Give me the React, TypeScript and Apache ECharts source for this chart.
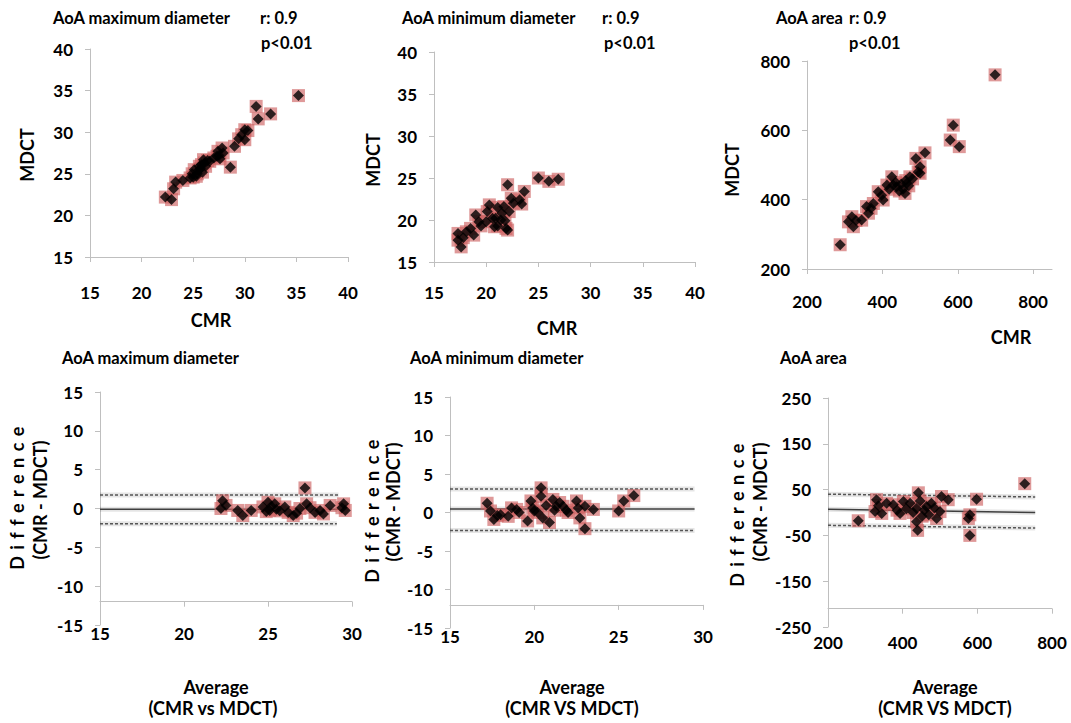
import React, { useEffect, useRef } from "react";
import * as echarts from "echarts";

// ---------- DATA ----------
// Correlation plots: [CMR, MDCT]
const maxScatter: number[][] = [
  [22.3, 22.2], [22.9, 21.9], [23.1, 23.2], [23.3, 24.0], [24.0, 24.2], [24.7, 24.5], [24.9, 25.0],
  [25.0, 24.6], [25.1, 25.5], [25.3, 24.7], [25.4, 25.0], [25.5, 25.4], [25.6, 25.9], [25.7, 25.6],
  [25.8, 26.1], [25.9, 25.2], [26.0, 26.7], [26.1, 26.3], [26.2, 25.9], [26.4, 26.6], [26.6, 26.5],
  [27.0, 26.9], [27.3, 27.1], [27.4, 27.7], [27.5, 27.2], [27.6, 26.8], [27.8, 28.1], [27.9, 27.5],
  [28.6, 25.8], [29.0, 28.3], [29.4, 29.2], [29.7, 29.7], [30.0, 29.1], [30.0, 30.3], [30.3, 30.2],
  [31.1, 33.1], [31.3, 31.6], [32.5, 32.2], [35.2, 34.4],
];
const minScatter: number[][] = [
  [17.3, 18.4], [17.3, 17.6], [17.6, 16.8], [17.8, 17.9], [18.1, 18.6], [18.5, 19.0], [18.8, 18.2],
  [19.0, 20.6], [19.3, 19.8], [19.5, 19.3], [20.0, 19.8], [20.1, 21.0], [20.3, 21.8], [20.6, 20.2],
  [20.8, 19.2], [20.9, 20.2], [21.1, 19.3], [21.1, 21.5], [21.4, 20.0], [21.5, 20.8], [21.7, 21.6],
  [21.8, 19.9], [21.9, 19.0], [22.05, 18.8], [22.05, 24.2], [22.2, 21.0], [22.4, 22.6], [22.6, 22.0],
  [23.2, 22.4], [23.4, 21.9], [23.65, 23.4], [25.0, 25.0], [26.0, 24.6], [26.9, 24.85],
];
const areaScatter: number[][] = [
  [288, 270], [310, 336], [319, 351], [323, 322], [330, 340], [345, 341], [358, 380], [363, 361],
  [370, 375], [376, 389], [389, 423], [398, 413], [402, 399], [412, 442], [418, 430], [425, 466],
  [429, 442], [435, 450], [438, 437], [445, 425], [450, 445], [455, 430], [460, 418], [462, 455],
  [465, 447], [470, 440], [473, 466], [480, 460], [489, 519], [495, 480], [500, 495], [500, 476],
  [513, 535], [580, 572], [588, 615], [604, 553], [699, 760],
];

// Bland-Altman plots: [average, difference]
const maxBA: number[][] = [
  [22.3, 1.0], [22.2, 0.0], [22.5, 0.4], [23.2, -0.25], [23.5, -0.9], [24.0, -0.25], [24.7, 0.2],
  [24.9, -0.4], [25.0, 0.8], [25.1, -0.25], [25.2, 0.3], [25.4, 0.6], [25.5, -0.1], [25.7, -0.3],
  [26.0, 0.2], [26.2, -0.5], [26.5, -0.9], [26.7, -0.6], [26.9, 0.0], [27.2, 2.65], [27.3, 0.6],
  [27.5, 0.1], [27.8, -0.5], [28.1, -0.25], [28.3, -0.7], [28.7, 0.4], [29.4, 0.1], [29.5, 0.6],
  [29.6, -0.25],
];
const minBA: number[][] = [
  [17.2, 1.2], [17.4, 0.2], [17.6, -0.9], [17.8, -0.4], [18.0, -0.3], [18.45, -0.5], [18.65, 0.6],
  [18.95, 0.4], [19.1, 0.0], [19.6, -1.1], [19.8, 1.5], [19.9, 0.6], [20.0, 0.2], [20.2, 0.0],
  [20.4, 3.2], [20.4, 2.1], [20.5, -0.7], [20.7, 0.9], [20.9, -1.3], [21.1, 1.7], [21.2, 0.3],
  [21.3, 0.8], [21.5, 1.3], [21.7, 0.8], [21.9, 0.3], [22.0, 0.0], [22.5, 1.5], [22.6, 0.6],
  [22.7, -0.7], [23.0, -2.1], [23.0, 0.8], [23.5, 0.4], [25.0, 0.2], [25.3, 1.5], [25.9, 2.2],
];
const areaBA: number[][] = [
  [281, -18], [326, 2], [330, 28], [335, 15], [344, -2], [357, 20], [375, 17], [385, 5], [393, -2],
  [402, 24], [410, 8], [420, 20], [428, 0], [437, 9], [437, -20], [440, -39], [442, 43], [447, 25],
  [452, -8], [458, 5], [464, 13], [470, -5], [477, 20], [485, 10], [491, -13], [500, 2], [504, 35],
  [522, 28], [576, -13], [580, -5], [580, -50], [598, 29], [727, 63],
];

// Mean difference and limits of agreement lines: [x, y] endpoints
const maxMean: number[][] = [[15, -0.1], [29.7, -0.1]];
const maxUpper: number[][] = [[15, 1.75], [29.2, 1.75]];
const maxLower: number[][] = [[15, -1.95], [29.1, -1.95]];
const minMean: number[][] = [[15, 0.45], [29.5, 0.45]];
const minUpper: number[][] = [[15, 3.05], [29.5, 3.05]];
const minLower: number[][] = [[15, -2.35], [29.5, -2.35]];
const areaMean: number[][] = [[200, 7], [755, 0]];
const areaUpper: number[][] = [[200, 40], [755, 34]];
const areaLower: number[][] = [[200, -28], [755, -34]];

const areaBATicks = [-250, -150, -50, 50, 150, 250];

// ---------- STYLE ----------
const FONT = "Lato";
const AXIS_COLOR = "#bfbfbf";
const TICK_SIZE = 17;
const TITLE_SIZE = 16.5;
const NAME_SIZE = 18;

type PanelCfg = {
  grid: { left: number; top: number; width: number; height: number };
  x: { min: number; max: number; interval: number; margin: number; offset: number; hideMax?: boolean };
  y: { min: number; max: number; interval?: number; custom?: number[] };
  data: number[][];
  lines?: { mean: number[][]; upper: number[][]; lower: number[][] };
};

const panels: PanelCfg[] = [
  {
    grid: { left: 90, top: 49, width: 258, height: 208 },
    x: { min: 15, max: 40, interval: 5, margin: 27, offset: 0 },
    y: { min: 15, max: 40, interval: 5 },
    data: maxScatter,
  },
  {
    grid: { left: 434, top: 52, width: 261, height: 210 },
    x: { min: 15, max: 40, interval: 5, margin: 22, offset: 0 },
    y: { min: 15, max: 40, interval: 5 },
    data: minScatter,
  },
  {
    grid: { left: 807, top: 61, width: 245, height: 208 },
    x: { min: 200, max: 850, interval: 200, margin: 24, offset: 0, hideMax: true },
    y: { min: 200, max: 800, interval: 200 },
    data: areaScatter,
  },
  {
    grid: { left: 100, top: 392, width: 252, height: 233 },
    x: { min: 15, max: 30, interval: 5, margin: 23, offset: -23.3 },
    y: { min: -15, max: 15, interval: 5 },
    data: maxBA,
    lines: { mean: maxMean, upper: maxUpper, lower: maxLower },
  },
  {
    grid: { left: 450, top: 397, width: 253, height: 231 },
    x: { min: 15, max: 30, interval: 5, margin: 23, offset: -23.1 },
    y: { min: -15, max: 15, interval: 5 },
    data: minBA,
    lines: { mean: minMean, upper: minUpper, lower: minLower },
  },
  {
    grid: { left: 828, top: 398, width: 224, height: 229 },
    x: { min: 200, max: 800, interval: 200, margin: 25, offset: -18.3 },
    y: { min: -250, max: 250, custom: areaBATicks },
    data: areaBA,
    lines: { mean: areaMean, upper: areaUpper, lower: areaLower },
  },
];

const textStyle = (size: number) => ({
  fontFamily: FONT,
  fontWeight: "bold" as const,
  fontSize: size,
  color: "#000",
});

function label(text: string, x: number, y: number, size: number, align: string = "left", rotate = false) {
  return {
    type: "text",
    x,
    y,
    rotation: rotate ? Math.PI / 2 : 0,
    style: {
      text,
      fill: "#000",
      font: `bold ${size}px ${FONT}`,
      align,
      verticalAlign: "middle",
    },
  };
}

export default function App() {
  const ref = useRef<HTMLDivElement>(null);

  useEffect(() => {
    if (!ref.current) return;
    const el = ref.current;
    const chart = echarts.init(el, undefined, { renderer: "svg" });

    const grid = panels.map((p) => ({ ...p.grid, containLabel: false }));

    const xAxis = panels.map((p, i) => ({
      type: "value",
      gridIndex: i,
      min: p.x.min,
      max: p.x.max,
      interval: p.x.interval,
      offset: p.x.offset,
      axisLine: { show: true, onZero: false, lineStyle: { color: AXIS_COLOR, width: 1 } },
      axisTick: { show: true, length: 5, lineStyle: { color: AXIS_COLOR } },
      splitLine: { show: false },
      axisLabel: {
        ...textStyle(TICK_SIZE),
        margin: p.x.margin,
        showMinLabel: true,
        showMaxLabel: !p.x.hideMax,
        formatter: (v: number) => (p.x.hideMax && v === p.x.max ? "" : String(v)),
      },
    }));

    const yAxis = panels.map((p, i) => {
      const base: any = {
        type: "value",
        gridIndex: i,
        min: p.y.min,
        max: p.y.max,
        axisLine: { show: true, onZero: false, lineStyle: { color: AXIS_COLOR, width: 1 } },
        axisTick: { show: true, length: 5, lineStyle: { color: AXIS_COLOR } },
        splitLine: { show: false },
        axisLabel: { ...textStyle(TICK_SIZE), margin: 17, showMinLabel: true, showMaxLabel: true },
      };
      if (p.y.custom) {
        base.axisLabel.customValues = p.y.custom;
        base.axisTick.customValues = p.y.custom;
      } else {
        base.interval = p.y.interval;
      }
      return base;
    });

    const series: any[] = [];
    panels.forEach((p, i) => {
      if (p.lines) {
        [p.lines.mean, p.lines.upper, p.lines.lower].forEach((d) =>
          series.push({
            type: "line",
            xAxisIndex: i,
            yAxisIndex: i,
            data: d,
            symbol: "none",
            silent: true,
            lineStyle: { color: "rgba(0,0,0,0.1)", width: 5 },
            z: 1,
          })
        );
        series.push({
          type: "line",
          xAxisIndex: i,
          yAxisIndex: i,
          data: p.lines.mean,
          symbol: "none",
          silent: true,
          lineStyle: { color: "#3f3f3f", width: 1.5 },
          z: 2,
        });
        [p.lines.upper, p.lines.lower].forEach((d) =>
          series.push({
            type: "line",
            xAxisIndex: i,
            yAxisIndex: i,
            data: d,
            symbol: "none",
            silent: true,
            lineStyle: { color: "#555555", width: 1.5, type: [3, 2] },
            z: 2,
          })
        );
      }
      series.push({
        type: "scatter",
        xAxisIndex: i,
        yAxisIndex: i,
        data: p.data,
        symbol: "rect",
        symbolSize: 13,
        z: 3,
        itemStyle: { color: "rgba(205,95,95,0.8)" },
      });
      series.push({
        type: "scatter",
        xAxisIndex: i,
        yAxisIndex: i,
        data: p.data,
        symbol: "diamond",
        symbolSize: 11,
        z: 4,
        itemStyle: { color: "#000" },
      });
    });

    const graphics: any[] = [
      // top row titles and stats
      label("AoA maximum diameter", 53, 18, TITLE_SIZE),
      label("r: 0.9", 260, 18, TITLE_SIZE),
      label("p<0.01", 261, 43, TITLE_SIZE),
      label("AoA minimum diameter", 402, 18, TITLE_SIZE),
      label("r: 0.9", 602, 18, TITLE_SIZE),
      label("p<0.01", 604, 43, TITLE_SIZE),
      label("AoA area", 776, 18, TITLE_SIZE),
      label("r: 0.9", 849, 18, TITLE_SIZE),
      label("p<0.01", 849, 43, TITLE_SIZE),
      // top row axis names
      label("MDCT", 27, 155, NAME_SIZE, "center", true),
      label("CMR", 211, 320, NAME_SIZE, "center"),
      label("MDCT", 373, 160, NAME_SIZE, "center", true),
      label("CMR", 557, 328, NAME_SIZE, "center"),
      label("MDCT", 732, 170, NAME_SIZE, "center", true),
      label("CMR", 1011, 337, NAME_SIZE, "center"),
      // bottom row titles
      label("AoA maximum diameter", 62, 358, TITLE_SIZE),
      label("AoA minimum diameter", 410, 358, TITLE_SIZE),
      label("AoA area", 780, 358, TITLE_SIZE),
      // bottom row axis names
      label("Difference", 17, 495, NAME_SIZE, "center", true),
      label("(CMR - MDCT)", 40, 500, NAME_SIZE, "center", true),
      label("Average", 216, 687, NAME_SIZE, "center"),
      label("(CMR vs MDCT)", 213, 708, NAME_SIZE, "center"),
      label("Difference", 372, 508, NAME_SIZE, "center", true),
      label("(CMR - MDCT)", 393, 502, NAME_SIZE, "center", true),
      label("Average", 572, 687, NAME_SIZE, "center"),
      label("(CMR VS MDCT)", 572, 708, NAME_SIZE, "center"),
      label("Difference", 737, 512, NAME_SIZE, "center", true),
      label("(CMR - MDCT)", 760, 502, NAME_SIZE, "center", true),
      label("Average", 945, 687, NAME_SIZE, "center"),
      label("(CMR VS MDCT)", 945, 708, NAME_SIZE, "center"),
    ];

    // The source figure renders "Difference" with wide letter spacing.
    const spaceOut = () => {
      el.querySelectorAll("text").forEach((t) => {
        if (t.textContent === "Difference") t.setAttribute("letter-spacing", "6.5");
      });
    };
    chart.on("finished", spaceOut);

    chart.setOption({
      animation: false,
      backgroundColor: "#fff",
      grid,
      xAxis,
      yAxis,
      series,
      graphic: graphics,
    });
    spaceOut();
    const raf = requestAnimationFrame(spaceOut);

    return () => {
      cancelAnimationFrame(raf);
      chart.dispose();
    };
  }, []);

  return (
    <div
      ref={ref}
      style={{ position: "absolute", left: 0, top: 0, width: 1071, height: 723, background: "#fff" }}
    />
  );
}
